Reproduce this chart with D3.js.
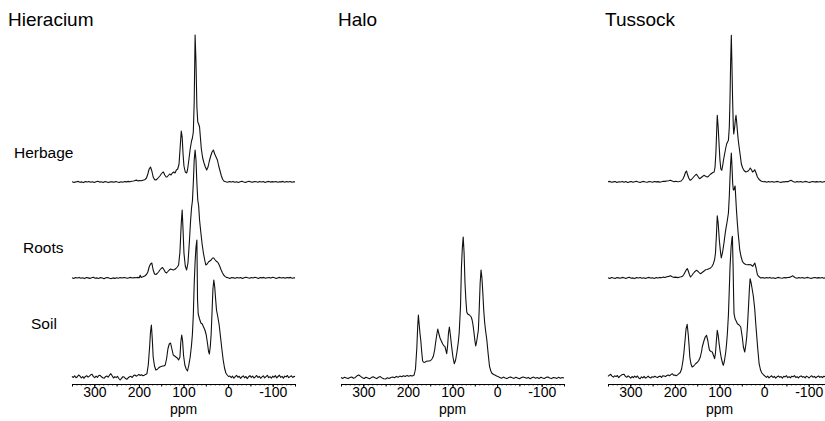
<!DOCTYPE html>
<html>
<head>
<meta charset="utf-8">
<script src="https://cdn.jsdelivr.net/npm/d3@7"></script>
<style>
  body { margin: 0; background: #fff; }
  text { font-family: "Liberation Sans", Arial, sans-serif; fill: #000; }
</style>
</head>
<body>
<div id="plot"></div>
<script>
// 13C NMR spectra, [ppm, intensity]
var panelNames = ["Hieracium", "Halo", "Tussock"];
var rowNames = ["Herbage", "Roots", "Soil"];
var majorTicks = [300, 200, 100, 0, -100];
var stackOffsets = [202, 106, 7];   // herbage, roots, soil
var haloOffset = [6];

var hieraciumHerbage = [[350,0.3],[345,-0.4],[340,0.2],[336,0.6],[332,-0.2],[328,0.1],[324,-0.6],[320,0.4],[316,0],[312,0.5],[308,-0.3],[304,0.2],[300,-0.5],[296,0.3],[292,0.7],[288,-0.1],[284,0.2],[280,-0.4],[276,0.4],[272,0],[268,-0.6],[264,0.3],[260,0.1],[256,-0.3],[252,0.5],[248,0],[244,-0.4],[240,0.3],[236,-0.2],[232,0.4],[228,0.1],[224,0.6],[220,0.2],[216,0.7],[212,1.0],[208,1.6],[205,1.9],[202,1.0],[199,1.5],[195,1.2],[191,1.8],[187,2.2],[183,4],[180,8],[177,13],[174,15],[171,11],[168,5],[165,2.4],[162,2],[159,3],[156,4.5],[153,6],[150,8],[147,9.5],[145,10],[142,7],[139,5],[137,5],[134,6.5],[131,8],[128,7],[125,9],[122,10],[119,9],[116,12],[113,13],[110,18],[107,38],[105,51],[103,45],[101,28],[99,16],[96,10],[93,9],[91,12],[88,22],[85,33],[82,41],[80,44],[78,50],[76,80],[74,147],[72,120],[70,75],[68,60],[66,58],[64,55],[62,44],[60,33],[57,24],[54,19],[51,15],[48,12],[45,15],[42,21],[39,26],[36,30],[33,32],[30,28],[27,25],[24,22],[21,16],[18,11],[15,6],[12,2.5],[9,0.8],[5,0.2],[1,-0.3],[-3,0.4],[-7,0],[-11,0.6],[-15,-0.2],[-19,0.3],[-23,-0.5],[-27,0.2],[-31,0.7],[-35,0],[-39,-0.4],[-43,0.3],[-47,0.8],[-51,0.1],[-55,-0.3],[-59,0.5],[-63,0.2],[-67,-0.2],[-71,0.6],[-75,0],[-79,0.4],[-83,-0.5],[-87,0.2],[-91,0.6],[-95,-0.1],[-99,0.4],[-103,0],[-107,0.5],[-111,-0.3],[-115,0.3],[-119,0.1],[-123,0.6],[-127,-0.2],[-131,0.4],[-135,0],[-139,0.5],[-143,-0.3],[-147,0.3],[-150,0.1]];

var hieraciumRoots = [[350,0.2],[346,-0.5],[342,0.4],[338,0],[334,0.6],[330,-0.3],[326,0.2],[322,-0.6],[318,0.5],[314,0.1],[310,-0.4],[306,0.3],[302,0.8],[298,-0.2],[294,0.1],[290,-0.5],[286,0.4],[282,0],[278,-0.7],[274,0.2],[270,0.5],[266,-0.3],[262,-0.6],[258,0.1],[254,-0.4],[250,0.3],[246,-0.2],[242,0.4],[238,0],[234,0.5],[230,0.2],[226,-0.3],[222,0.3],[218,0.6],[214,0],[210,0.4],[206,0.2],[202,0.6],[199,0.3],[197,2.7],[195,0.6],[191,1.2],[187,2.0],[183,3.5],[180,6],[177,11],[174,14],[171,15],[168,8],[165,4],[162,3.5],[159,4.5],[156,6],[153,8],[150,9.5],[147,10.5],[144,8.5],[141,6],[138,5],[135,6.5],[132,8],[129,9],[126,8.5],[123,8],[120,8.5],[117,9.5],[114,11],[111,13],[108,26],[105,55],[103,68],[101,48],[99,25],[96,12],[93,8],[90,15],[87,35],[84,58],[82,70],[80,77],[78,95],[76,118],[74,128],[72,118],[70,95],[68,78],[66,72],[64,58],[61,45],[58,33],[55,24],[52,17],[50,13],[47,14],[44,16],[41,17],[38,18],[35,20],[32,20],[29,18],[27,17],[24,16],[22,15],[19,12],[16,8.5],[13,5.5],[10,3],[7,1.7],[4,0.6],[0,0.2],[-4,-0.4],[-8,0.5],[-12,0.1],[-16,-0.3],[-20,0.6],[-24,0],[-28,0.4],[-32,-0.5],[-36,0.3],[-40,0.8],[-44,0.2],[-48,-0.2],[-52,0.5],[-56,0],[-60,0.7],[-64,0.3],[-68,-0.4],[-72,0.4],[-76,0.1],[-80,0.6],[-84,-0.3],[-88,0.2],[-92,0.5],[-96,-0.1],[-100,0.7],[-104,0.2],[-108,-0.4],[-112,0.3],[-116,0.6],[-120,0],[-124,0.4],[-128,-0.3],[-132,0.5],[-136,0.1],[-140,0.6],[-144,-0.2],[-148,0.3],[-150,0.1]];

var hieraciumSoil = [[350,0.7],[347,-0.5],[344,1.2],[341,-0.7],[338,0.3],[335,2.0],[332,0.8],[329,-1.0],[326,0.5],[323,-1.3],[320,0.6],[317,1.3],[314,-0.2],[311,0.9],[308,2.2],[305,2.7],[302,0.4],[299,-0.7],[296,0.8],[293,-0.4],[290,1.5],[287,1.7],[284,0.2],[281,-0.8],[278,-1.3],[275,0.3],[272,1.0],[269,-0.2],[266,1.8],[263,3.3],[260,1.2],[257,-1.0],[254,0.4],[251,-0.6],[248,0.7],[245,-1.5],[242,-3.0],[239,-1.4],[236,0.3],[233,0],[230,-1.6],[227,-2.3],[224,-0.8],[221,0.2],[218,0.7],[215,-0.5],[212,1.4],[209,2.0],[206,0.8],[203,1.6],[200,2.7],[197,1.5],[194,2.2],[191,1.3],[188,1.8],[185,2.6],[182,3.3],[179,12],[176,30],[174,45],[172,52],[170,38],[168,20],[165,11],[162,7],[159,7.5],[156,9],[153,10],[150,10.5],[147,11],[144,11],[141,12],[138,18],[135,28],[132,33],[129,34],[126,28],[123,22],[120,21],[117,20],[114,19],[111,17],[108,20],[106,35],[104,42],[102,36],[100,22],[97,12],[94,8],[91,6],[88,12],[85,20],[82,32],[80,43],[78,62],[76,93],[74,115],[72,130],[70,137],[68.5,77],[67,63],[64,58],[61,54],[58,53],[55,50],[52,47],[49,42],[46,33],[44,26],[42,23],[40,30],[38,43],[36,65],[34,88],[32,97],[30,90],[28,78],[26,67],[23,60],[20,52],[17,40],[14,28],[11,17],[8,9],[5,4],[2,2],[-1,0.5],[-4,1.0],[-7,-0.6],[-10,0.8],[-13,-1.2],[-16,0.4],[-19,1.6],[-22,-0.3],[-25,0.7],[-28,-1.4],[-31,0.2],[-34,1.1],[-37,-0.8],[-40,0.5],[-43,-1.6],[-46,0.3],[-49,1.3],[-52,-0.4],[-55,0.9],[-58,-1.0],[-61,0.2],[-64,1.5],[-67,-0.5],[-70,0.6],[-73,-1.3],[-76,0.1],[-79,1.2],[-82,-0.9],[-85,0.4],[-88,1.7],[-91,-0.6],[-94,0.3],[-97,-1.1],[-100,0.8],[-103,-0.2],[-106,1.4],[-109,-0.9],[-112,0.5],[-115,1.8],[-118,-0.4],[-121,0.6],[-124,-1.2],[-127,0.9],[-130,0.1],[-133,1.5],[-136,-0.7],[-139,0.4],[-142,1.2],[-145,-0.5],[-148,0.7],[-150,0.2]];

var haloSoil = [[350,0.5],[346,-0.4],[342,0.8],[338,0.1],[334,-0.6],[330,0.4],[326,1.0],[322,-0.2],[318,0.6],[314,2.2],[310,3.0],[306,1.6],[302,0.3],[298,-0.5],[294,0.7],[290,0],[286,-0.8],[282,0.4],[278,1.2],[274,0.2],[270,-0.6],[266,0.8],[262,1.4],[258,0.1],[254,-0.7],[250,-1.0],[246,0.2],[242,-0.4],[238,0.5],[234,1.0],[230,0.3],[226,1.6],[222,0.8],[218,1.9],[214,1.2],[210,2.3],[206,1.5],[202,2.6],[198,1.7],[194,2.4],[190,2.0],[186,3.0],[183,9],[180,30],[178,52],[176.5,63],[175,55],[173,45],[171,37],[169,26],[167,17],[164,15.5],[161,16],[158,16.7],[155,17],[152,17],[149,17.5],[146,19],[143,21.7],[140,28],[138,35],[135,44],[133,49],[131,45],[128,40],[125,37],[122,34],[119,32],[117,31.7],[115,28],[113,24.3],[111,32],[109,45],[107,51],[105,44],[102,31.7],[99,21],[96,14.3],[93,18],[90,26],[87,36],[85,45],[82,72],[80,110],[78,130],[76,141],[74,125],[72,95],[70,78],[68,66],[66,64],[64,63.5],[62,63],[60,62],[58,61],[56,58],[54,53],[52,46],[50,38],[48,32],[46,36],[44,42],[42,48],[40,70],[38,95],[36,108],[34,100],[32,85],[30,68],[28,56],[26,48],[23,38],[20,24],[17,11.7],[14,7],[12,5],[8,3.5],[5,3],[1,2],[-3,1.2],[-6,0.6],[-10,-0.3],[-14,0.9],[-18,0.1],[-22,-0.6],[-26,0.5],[-30,1.1],[-34,0.2],[-38,-0.4],[-42,0.7],[-46,0],[-50,-0.8],[-54,0.3],[-58,1.0],[-62,0.4],[-66,-0.3],[-70,0.6],[-74,-0.7],[-78,0.2],[-82,0.9],[-86,-0.2],[-90,0.4],[-94,-0.6],[-98,0.8],[-102,0.1],[-106,-0.5],[-110,0.6],[-114,1.0],[-118,0],[-122,-0.6],[-126,0.5],[-130,0.2],[-134,-0.4],[-138,0.7],[-142,-0.2],[-146,0.5],[-150,0]];

var tussockHerbage = [[350,0.2],[346,0.6],[342,-0.3],[338,0.1],[334,0.5],[330,-0.4],[326,0.3],[322,0],[318,0.6],[314,-0.2],[310,0.4],[306,-0.5],[302,0.1],[298,0.5],[294,-0.3],[290,0.2],[286,0.7],[282,0],[278,-0.4],[274,0.3],[270,0.6],[266,0],[262,-0.3],[258,0.4],[254,0.2],[250,-0.2],[246,0.5],[242,0.1],[238,0.4],[234,-0.1],[230,0.3],[226,0.8],[222,0.6],[218,1.0],[214,1.3],[210,1.7],[206,0.9],[202,0.3],[198,0.7],[194,0.2],[190,0.5],[186,1],[182,3],[179,6],[176,10],[174,11],[172,8],[169,4],[166,1.7],[163,2.5],[160,4],[157,5.5],[154,7],[151.5,7.7],[149,6],[146,4],[144,3.3],[141,4.5],[138,5.5],[135,6.7],[132,6],[129,5.3],[127,5],[124,6],[121,7.5],[118,8.5],[115,9.5],[112,10],[110,15],[108,30],[106,55],[105,66.7],[103,55],[101,38],[99,22],[97,13],[95,11.7],[93,16],[91,22],[89,27],[86,34],[84,38],[82,40],[80,41.7],[78,55],[76.5,82],[75,120],[73.5,146.7],[72,115],[70.5,80],[69,55],[68,48],[66,55],[64.5,62],[63,66.7],[61.5,60],[60,51.7],[58,42],[56,35],[53,25],[51,18],[48,14],[45,11.5],[41,10],[38,10.5],[35.7,11],[33,12.5],[31,14],[28,12],[26,10],[23,11],[21,12.3],[18,9],[15,5],[12,3],[9,1.7],[6,0.8],[2,0.3],[-2,0.5],[-6,-0.2],[-10,0.4],[-14,0],[-18,0.5],[-22,-0.3],[-26,0.2],[-30,0.6],[-34,0],[-38,-0.4],[-42,0.3],[-46,0.1],[-50,0.5],[-54,0.4],[-57,1.1],[-60,1.7],[-63,1.0],[-66,0.3],[-70,-0.2],[-74,0.4],[-78,0],[-82,0.5],[-86,-0.3],[-90,0.2],[-94,0.6],[-98,0],[-102,-0.4],[-106,0.3],[-110,0.5],[-114,-0.1],[-118,0.4],[-122,0],[-126,0.5],[-130,-0.3],[-134,0.2],[-138,0.5],[-142,0],[-146,0.3],[-150,0.1]];

var tussockRoots = [[350,0.3],[346,-0.4],[342,0.5],[338,0],[334,-0.5],[330,0.4],[326,0.1],[322,-0.3],[318,0.6],[314,0.2],[310,-0.4],[306,0.3],[302,0.7],[298,-0.2],[294,0.1],[290,-0.6],[286,0.4],[282,0],[278,0.5],[274,-0.3],[270,0.2],[266,-0.5],[262,0.3],[258,0.6],[254,-0.1],[250,0.2],[246,-0.4],[242,0.4],[238,0],[234,0.6],[230,0.3],[226,0.9],[222,0.5],[218,1.2],[214,1.6],[210,2.3],[206,1.2],[202,0.6],[198,0.9],[194,0.4],[190,0.8],[186,1.2],[183,1.7],[180,3.5],[177,6],[174,8.5],[172,9.3],[170,7],[167,3],[165,1],[162,2.5],[159,4.5],[156,6],[153,7.3],[151,7.7],[148,6.5],[145,5],[142,4.3],[139,5.5],[136,6.5],[133,7.5],[131,8.3],[128,8.5],[125,9],[122,9.5],[120,10],[117,11.5],[114,14],[111,18.3],[109,25],[107,42],[105,62.3],[103,55],[100.4,38],[98,27],[96,20],[93,26],[90,35],[88,42],[86,48.3],[83,56],[80,65],[78,82],[76.5,100],[75,115],[73.5,125],[72,112],[70.5,95],[69,88],[67.5,88],[66,91],[65,92],[63.5,80],[62,68],[60,55],[58,44],[56,35],[54.7,28.3],[52,22],[48.7,16.7],[45,14.5],[41,13.5],[37.4,13.3],[34,13.5],[29.9,13.3],[27,12.3],[25.4,11.7],[23,13.5],[20.9,15],[18,10],[15,3.3],[12,1.5],[7.4,0],[3,0.4],[-1,-0.3],[-5,0.4],[-9,0],[-13,0.6],[-17,-0.2],[-21,0.3],[-25,-0.5],[-29,0.2],[-33,0.6],[-37,0],[-41,-0.3],[-45,0.4],[-49,0.1],[-53,0.5],[-57,0.6],[-61,1.4],[-64,2.3],[-67,1.2],[-70,0.3],[-74,-0.3],[-78,0.4],[-82,0],[-86,0.5],[-90,-0.3],[-94,0.2],[-98,0.6],[-102,0],[-106,-0.4],[-110,0.3],[-114,0.5],[-118,-0.1],[-122,0.4],[-126,0],[-130,0.5],[-134,-0.3],[-138,0.3],[-142,0.6],[-146,0],[-150,0.2]];

var tussockSoil = [[350,0.7],[347,1.8],[344,2.7],[341,0.9],[338,-0.2],[335,1.2],[332,0.4],[329,1.5],[326,-0.6],[323,0.8],[320,1.9],[317,2.5],[314,2.7],[311,0.6],[308,-0.3],[305,1.1],[302,0.2],[299,-1.2],[296,0.5],[293,-0.7],[290,0.9],[287,-0.3],[284,1.0],[281,-1.0],[278,-1.7],[275,0.2],[272,-0.9],[269,0.6],[266,-1.1],[263,-0.4],[260,0.8],[257,-0.5],[254,-1.0],[251,0.3],[248,-0.2],[245,0.7],[242,0],[239,-0.6],[236,0.5],[233,0.9],[230,-0.3],[227,1.3],[224,1.0],[221,0.4],[218,1.5],[215,2.0],[212,1.2],[209,2.4],[206,3.3],[203,1.8],[200,2.0],[197,1.3],[194,2.1],[191,3.3],[188,4.5],[185,8],[182,16],[180,23.3],[177,38],[175,48],[172.5,52.7],[170,42],[168,30],[166.6,20],[164,13],[161.3,10],[158,11],[155,12.5],[153.7,13.3],[150,14.5],[146.2,16.7],[143,20],[140,26],[138.7,30],[135,36],[132,40],[129,41.7],[126,36],[124,30],[122.2,26.7],[119,25.5],[116.2,25],[113,21],[111,18.3],[109,24],[107,36],[105,46.7],[103,42],[101,34],[98.9,26.7],[96,19],[93,13.5],[91.4,11.7],[89,16],[86,25],[84,34],[82.4,43.3],[80,62],[78,88],[76.4,110],[74,130],[72,139],[71.1,140.7],[69.5,110],[68.3,80],[67.4,63.3],[65,58],[62,55.5],[59.9,53.3],[56,52],[52.4,50],[49,40],[46.4,30],[43.4,25],[41,32],[39,40],[37.4,50],[35,70],[33,88],[31.4,98.3],[29,94],[26,86],[23.9,80],[21,68],[18.7,53.3],[16,38],[14,27],[11.2,13.3],[8,7],[5,4],[3.7,3.3],[1,2],[-2,0.8],[-5,-0.4],[-8,0.9],[-11,-0.8],[-14,0.3],[-17,1.2],[-20,-0.5],[-23,0.6],[-26,-1.1],[-29,0.2],[-32,1.0],[-35,-0.3],[-38,0.5],[-41,-1.2],[-44,0.7],[-47,0.1],[-50,1.3],[-53,-0.6],[-56,0.4],[-59,-0.9],[-62,0.8],[-65,0.2],[-68,1.4],[-71,-0.4],[-74,0.3],[-77,-1.0],[-80,0.6],[-83,1.1],[-86,-0.2],[-89,0.4],[-92,-0.8],[-95,0.9],[-98,0.1],[-101,-1.0],[-104,0.5],[-107,1.2],[-110,-0.3],[-113,0.6],[-116,-0.9],[-119,0.3],[-122,1.0],[-125,-0.4],[-128,0.5],[-131,-0.7],[-134,0.8],[-137,0.2],[-140,-0.6],[-143,0.9],[-146,0.1],[-150,0.4]];

var W = 825, H = 421;
var axisY = 384;

var panels = [
  { name: panelNames[0], range: [72, 295], titleX: 8,
    traces: [hieraciumHerbage, hieraciumRoots, hieraciumSoil], offsets: stackOffsets },
  { name: panelNames[1], range: [341, 564], titleX: 338,
    traces: [haloSoil], offsets: haloOffset },
  { name: panelNames[2], range: [608, 831], titleX: 605,
    traces: [tussockHerbage, tussockRoots, tussockSoil], offsets: stackOffsets }
];

var svg = d3.select("#plot").append("svg")
    .attr("width", W)
    .attr("height", H);

// one intensity scale shared by every panel (1 unit ~ 1 px)
var y = d3.scaleLinear().domain([0, 350]).range([axisY, 34]);

panels.forEach(function(p) {
  var x = d3.scaleLinear().domain([350, -150]).range(p.range);
  var mid = x(100);

  // minor ticks every 10 ppm, medium every 50
  svg.append("g")
      .attr("transform", "translate(0," + axisY + ")")
      .call(d3.axisBottom(x).tickValues(d3.range(-150, 351, 10)).tickSize(1.5).tickFormat(""))
      .call(g => g.select(".domain").remove())
      .selectAll("line").attr("stroke", "#333");

  svg.append("g")
      .attr("transform", "translate(0," + axisY + ")")
      .call(d3.axisBottom(x).tickValues(d3.range(-150, 351, 50)).tickSize(2.5).tickFormat(""))
      .call(g => g.select(".domain").remove());

  var ax = svg.append("g")
      .attr("transform", "translate(0," + axisY + ")")
      .call(d3.axisBottom(x).tickValues(majorTicks).tickSize(3).tickPadding(0)
        .tickSizeOuter(0).tickFormat(d => String(d)));
  ax.selectAll("text")
      .style("font-size", "14px")
      .style("font-family", '"Liberation Sans", Arial, sans-serif');

  svg.append("text")
      .attr("x", mid)
      .attr("y", 414)
      .attr("text-anchor", "middle")
      .style("font-size", "14px")
      .text("ppm");

  svg.append("text")
      .attr("x", p.titleX)
      .attr("y", 26)
      .style("font-size", "19px")
      .text(p.name);

  p.traces.forEach(function(t, i) {
    var off = p.offsets[i];
    var line = d3.line()
        .x(d => x(d[0]))
        .y(d => y(d[1] + off));
    svg.append("path")
        .datum(t)
        .attr("fill", "none")
        .attr("stroke", "#111")
        .attr("stroke-width", 1.1)
        .attr("stroke-linejoin", "round")
        .attr("d", line);
  });
});

// row labels for the first panel
var rowLabelPos = [[14, 158], [23, 253], [31, 329]];
svg.selectAll(".rowlabel")
    .data(rowNames)
    .enter().append("text")
    .attr("class", "rowlabel")
    .attr("x", (d, i) => rowLabelPos[i][0])
    .attr("y", (d, i) => rowLabelPos[i][1])
    .style("font-size", "15.5px")
    .text(d => d);
</script>
</body>
</html>
